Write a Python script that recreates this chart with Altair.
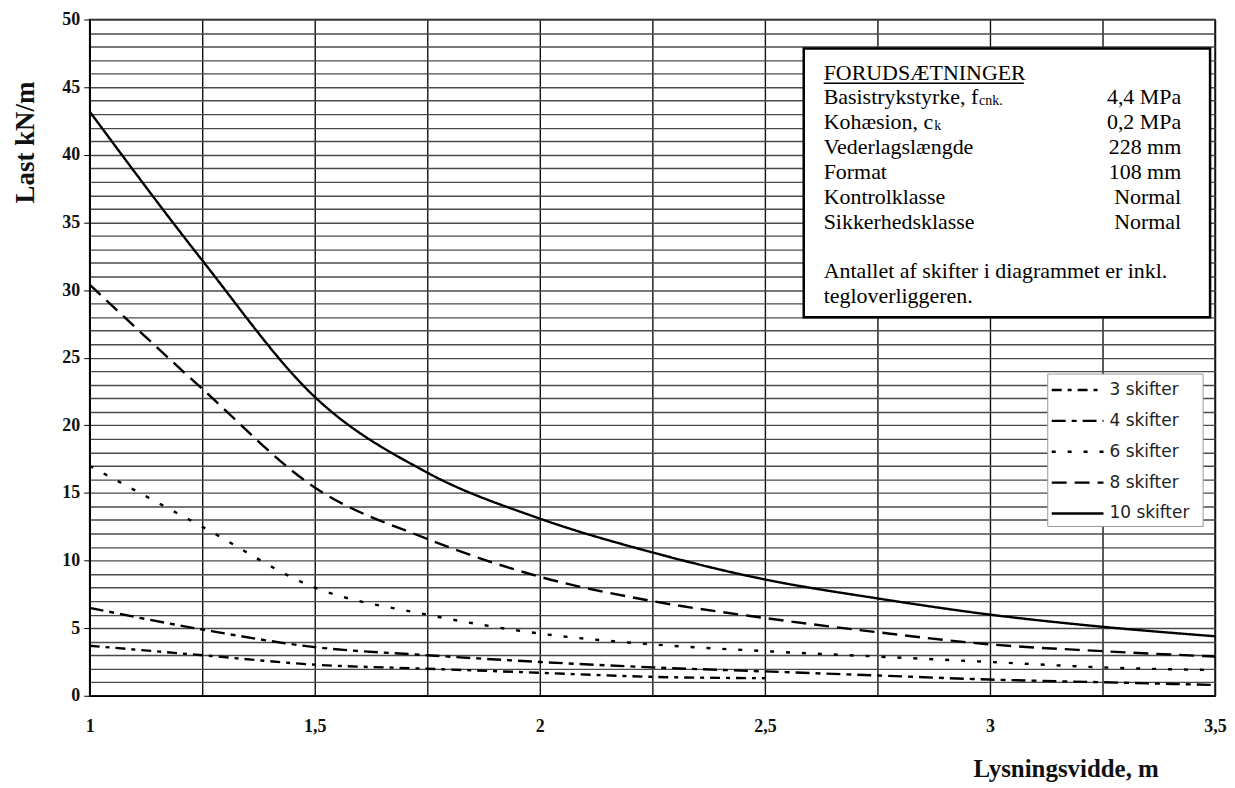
import altair as alt
import pandas as pd

# ---------------- data ----------------
x_vals = [1.0, 1.25, 1.5, 1.75, 2.0, 2.25, 2.5, 2.75, 3.0, 3.25, 3.5]
s3 = [3.7, 3.0, 2.3, 2.0, 1.7, 1.4, 1.3]
s4 = [6.5, 4.9, 3.6, 3.0, 2.5, 2.1, 1.8, 1.5, 1.2, 1.0, 0.8]
s6 = [17.0, 12.5, 8.0, 6.0, 4.6, 3.8, 3.3, 2.9, 2.5, 2.1, 1.9]
s8 = [30.4, 22.7, 15.4, 11.6, 8.8, 7.0, 5.75, 4.7, 3.8, 3.3, 2.9]
s10 = [43.2, 32.2, 22.1, 16.5, 13.1, 10.6, 8.6, 7.2, 6.0, 5.1, 4.4]

series_names = ["3 skifter", "4 skifter", "6 skifter", "8 skifter", "10 skifter"]
series_values = [s3, s4, s6, s8, s10]
dash_styles = [[10, 6, 4, 6], [14, 6, 5, 6], [4, 12], [15, 8], [1, 0]]

x_ticks = [1.0, 1.25, 1.5, 1.75, 2.0, 2.25, 2.5, 2.75, 3.0, 3.25, 3.5]
y_ticks = list(range(0, 51))

info_labels = ["Basistrykstyrke, f", "Kohæsion, c", "Vederlagslængde", "Format",
               "Kontrolklasse", "Sikkerhedsklasse"]
info_values = ["4,4 MPa", "0,2 MPa", "228 mm", "108 mm", "Normal", "Normal"]
info_header = "FORUDSÆTNINGER"
info_note = ["Antallet af skifter i diagrammet er inkl.", "tegloverliggeren."]

rows = []
for name, ys in zip(series_names, series_values):
    for xv, yv in zip(x_vals, ys):
        rows.append({"series": name, "x": xv, "y": yv})
df = pd.DataFrame(rows)

SERIF = "Liberation Serif"
dash_scale = alt.Scale(domain=series_names, range=dash_styles)

curves = alt.Chart(df).mark_line(color="black", strokeWidth=2.4, interpolate="monotone").encode(
    x=alt.X("x:Q", scale=alt.Scale(domain=[1, 3.5], nice=False, zero=False),
            axis=alt.Axis(values=x_ticks,
                          labelExpr="(datum.value*2) % 1 == 0 ? replace(datum.value + '', '.', ',') : ''",
                          grid=True, gridColor="#111", gridWidth=1.4,
                          tickSize=0, labelPadding=22, labelFlush=False,
                          labelFont=SERIF, labelFontSize=18, labelFontWeight="bold", labelColor="#111",
                          domainColor="black", domainWidth=1.5,
                          title="Lysningsvidde, m", titleFont=SERIF, titleFontSize=25,
                          titleFontWeight="bold", titleColor="#111",
                          titleX=980, titleY=73, titleAlign="center", titleBaseline="middle")),
    y=alt.Y("y:Q", scale=alt.Scale(domain=[0, 50], nice=False, zero=False),
            axis=alt.Axis(values=y_ticks,
                          labelExpr="datum.value % 5 == 0 ? datum.value + '' : ''",
                          grid=True, gridColor="#4a4a4a", gridWidth=1.4,
                          tickSize=6,
                          tickColor={"condition": {"test": "datum.value % 5 == 0", "value": "black"},
                                     "value": "transparent"},
                          labelPadding=4, labelFlush=False,
                          labelFont=SERIF, labelFontSize=18, labelFontWeight="bold", labelColor="#111",
                          domainColor="black", domainWidth=1.5,
                          title="Last kN/m", titleFont=SERIF, titleFontSize=27,
                          titleFontWeight="bold", titleColor="#111",
                          titleX=-64, titleY=123, titleAngle=270,
                          titleAlign="center", titleBaseline="middle")),
    strokeDash=alt.StrokeDash("series:N", scale=dash_scale, legend=None),
    detail="series:N",
)

one = pd.DataFrame({"k": [0]})

# ---------------- info box ----------------
info_box = alt.Chart(one).mark_rect(fill="white", stroke="black", strokeWidth=2.5).encode(
    x=alt.value(717), x2=alt.value(1125), y=alt.value(29), y2=alt.value(299))

header = alt.Chart(one).mark_text(text=info_header, align="left", baseline="alphabetic",
                                  font=SERIF, fontSize=22, color="black").encode(
    x=alt.value(737), y=alt.value(61))
underline = alt.Chart(one).mark_rule(color="black", strokeWidth=1.4).encode(
    x=alt.value(737), x2=alt.value(938), y=alt.value(64))

info_df = pd.DataFrame({"label": info_labels, "value": info_values})
info_left = alt.Chart(info_df).transform_window(idx="row_number()").transform_calculate(
    py="60 + 25*datum.idx").mark_text(align="left", baseline="alphabetic", font=SERIF,
                                      fontSize=22, color="black").encode(
    x=alt.value(737), y=alt.Y("py:Q", scale=None), text="label:N")
info_right = alt.Chart(info_df).transform_window(idx="row_number()").transform_calculate(
    py="60 + 25*datum.idx").mark_text(align="right", baseline="alphabetic", font=SERIF,
                                      fontSize=22, color="black").encode(
    x=alt.value(1096), y=alt.Y("py:Q", scale=None), text="value:N")

sub_cnk = alt.Chart(one).mark_text(text="cnk.", align="left", baseline="alphabetic",
                                   font=SERIF, fontSize=14, color="black").encode(
    x=alt.value(893), y=alt.value(86))
sub_k = alt.Chart(one).mark_text(text="k", align="left", baseline="alphabetic",
                                 font=SERIF, fontSize=14, color="black").encode(
    x=alt.value(848), y=alt.value(111))

note_df = pd.DataFrame({"line": info_note})
note = alt.Chart(note_df).transform_window(idx="row_number()").transform_calculate(
    py="235 + 25*datum.idx").mark_text(align="left", baseline="alphabetic", font=SERIF,
                                       fontSize=22, color="black").encode(
    x=alt.value(737), y=alt.Y("py:Q", scale=None), text="line:N")

# ---------------- legend ----------------
leg_df = pd.DataFrame({"series": series_names})
leg_box = alt.Chart(one).mark_rect(fill="white", stroke="#999", strokeWidth=1).encode(
    x=alt.value(962), x2=alt.value(1118), y=alt.value(356), y2=alt.value(509))
leg_lines = alt.Chart(leg_df).transform_window(idx="row_number()").transform_calculate(
    py="341 + 31*datum.idx").mark_rule(color="black", strokeWidth=2.4).encode(
    x=alt.value(966), x2=alt.value(1018), y=alt.Y("py:Q", scale=None),
    strokeDash=alt.StrokeDash("series:N", scale=dash_scale, legend=None))
leg_text = alt.Chart(leg_df).transform_window(idx="row_number()").transform_calculate(
    py="341 + 31*datum.idx").mark_text(align="left", baseline="middle", font="DejaVu Sans",
                                       fontSize=17, color="#222").encode(
    x=alt.value(1024), y=alt.Y("py:Q", scale=None), text="series:N")

chart = alt.layer(
    curves, info_box, header, underline, info_left, info_right, sub_cnk, sub_k, note,
    leg_box, leg_lines, leg_text
).properties(
    width=1130, height=679,
    autosize=alt.AutoSizeParams(type="none"),
    padding={"left": 82, "top": 10, "right": 12, "bottom": 88},
    background="white",
).configure_view(stroke="black", strokeWidth=1.5)

chart.save("out.html", embed_options={"renderer": "svg", "actions": False})
